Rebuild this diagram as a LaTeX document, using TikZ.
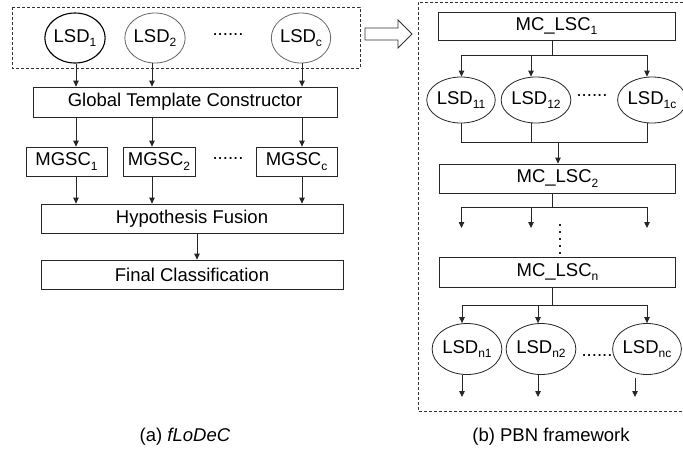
\documentclass[tikz,border=0pt]{standalone}
\usepackage{fontspec}
\setmainfont{Liberation Sans}
\usetikzlibrary{arrows.meta,shapes.geometric}
\newcommand\lowidx[1]{\raisebox{-4.5pt}{\fontsize{12}{12}\selectfont #1}}

\begin{document}
\begin{tikzpicture}[x=1pt,y=-1pt,
  every node/.style={font=\fontsize{18.5}{22}\selectfont, inner sep=0pt},
  ln/.style={draw=black!85, line width=0.8pt},
  box/.style={rectangle, draw=black!85, line width=0.8pt},
  oval/.style={ellipse, draw=black!85, line width=0.8pt},
  arr/.style={ln, -{Triangle[length=6pt,width=5.5pt]}},
  frame/.style={draw=black!80, line width=0.8pt, dash pattern=on 3pt off 2pt}]
\fill[white] (0,0) rectangle (683,456);
\useasboundingbox (0,0) rectangle (683,456);

% ---------- left: fLoDeC ----------
\draw[frame] (12,7) rectangle (360,68);
\node[oval, draw=black, line width=1.1pt, minimum width=56pt, minimum height=50pt] (lsd1) at (75,38) {LSD\lowidx{1}};
\node[oval, draw=black!60, minimum width=54pt, minimum height=50pt] (lsd2) at (155,38) {LSD\lowidx{2}};
\node[oval, draw=black!60, minimum width=52pt, minimum height=50pt] (lsdc) at (301,38) {LSD\lowidx{c}};
\node (dotsA) at (228,35) {......};

\node[box, minimum width=304pt, minimum height=30pt] (gtc) at (185,102) {Global Template Constructor};

\node[box, minimum width=81pt, minimum height=29pt] (m1) at (66.5,161.5) {MGSC\lowidx{1}};
\node[box, minimum width=72pt, minimum height=29pt] (m2) at (159,161.5) {MGSC\lowidx{2}};
\node[box, minimum width=81pt, minimum height=29pt] (mc) at (296.5,161.5) {MGSC\lowidx{c}};
\node (dotsB) at (228,159) {......};

\node[box, minimum width=302pt, minimum height=29pt] (hf) at (192,218.5) {Hypothesis Fusion};
\node[box, minimum width=302pt, minimum height=29pt] (fc) at (192,274.5) {Final Classification};

% column positions of the left-hand arrows
\coordinate (cA) at (76,0);
\coordinate (cB) at (152,0);
\coordinate (cC) at (302,0);

\draw[arr] (lsd1.south -| cA) -- (gtc.north -| cA);
\draw[arr] (lsd2.south -| cB) -- (gtc.north -| cB);
\draw[arr] (lsdc.south -| cC) -- (gtc.north -| cC);
\draw[arr] (gtc.south -| cA) -- (m1.north -| cA);
\draw[arr] (gtc.south -| cB) -- (m2.north -| cB);
\draw[arr] (gtc.south -| cC) -- (mc.north -| cC);
\draw[arr] (m1.south -| cA) -- (hf.north -| cA);
\draw[arr] (m2.south -| cB) -- (hf.north -| cB);
\draw[arr] (mc.south -| cC) -- (hf.north -| cC);
\draw[arr] ([xshift=5pt]hf.south) -- ([xshift=5pt]fc.north);

% hollow arrow between the panels
\draw[draw=black!80, line width=0.8pt] (365,28) -- (398,28) -- (398,20) -- (412,34)
  -- (398,48) -- (398,40) -- (365,40) -- cycle;

% ---------- right: PBN framework ----------
\draw[frame] (683,2) -- (418,2) -- (418,411) -- (683,411);

\coordinate (rA) at (461.5,0);
\coordinate (rB) at (531,0);
\coordinate (rC) at (647,0);
\coordinate (rM) at (552,0);

\node[box, minimum width=237pt, minimum height=28pt] (mc1) at (556.5,26) {MC\_LSC\lowidx{1}};
\node[oval, minimum width=57pt, minimum height=46pt] (l11) at (461,100) {LSD\lowidx{11}};
\node[oval, minimum width=58pt, minimum height=46pt] (l12) at (536,100) {LSD\lowidx{12}};
\node[oval, minimum width=55pt, minimum height=46pt] (l1c) at (652,100) {LSD\lowidx{1c}};
\node (dotsC) at (592,96) {......};

\coordinate (s1) at (552,55);
\draw[ln] (mc1.south -| rM) -- (s1);
\draw[ln] (s1 -| rA) -- (s1 -| rC);
\draw[arr] (s1 -| rA) -- (l11.north -| rA);
\draw[arr] (s1 -| rB) -- (l12.north -| rB);
\draw[arr] (s1 -| rC) -- (l1c.north -| rC);

\node[box, minimum width=236pt, minimum height=29pt] (mc2) at (557.5,178.5) {MC\_LSC\lowidx{2}};

\coordinate (j1) at (558,142);
\draw[ln] (l11.south -| rA) -- (j1 -| rA) -- (j1 -| rC) -- (l1c.south -| rC);
\draw[ln] (l12.south -| rB) -- (j1 -| rB);
\draw[arr] (j1) -- (mc2.north -| j1);

\coordinate (s2) at (552,207);
\coordinate (e2) at (0,228);
\draw[ln] (mc2.south -| rM) -- (s2);
\draw[ln] (s2 -| rA) -- (s2 -| rC);
\draw[arr] (s2 -| rA) -- (e2 -| rA);
\draw[arr] (s2 -| rB) -- (e2 -| rB);
\draw[arr] (s2 -| rC) -- (e2 -| rC);

% vertical ellipsis
\draw[draw=black!85, line width=1.6pt, dash pattern=on 1.6pt off 5.4pt] (560,224) -- (560,256);

\node[box, minimum width=236pt, minimum height=30pt] (mcn) at (557.5,272) {MC\_LSC\lowidx{n}};

\node[oval, minimum width=56pt, minimum height=51pt] (ln1) at (467,349) {LSD\lowidx{n1}};
\node[oval, minimum width=57pt, minimum height=51pt] (ln2) at (541,349) {LSD\lowidx{n2}};
\node[oval, minimum width=53pt, minimum height=51pt] (lnc) at (647,349) {LSD\lowidx{nc}};
\node (dotsD) at (597,356) {......};

\coordinate (nA) at (462,0);
\coordinate (nB) at (538,0);
\coordinate (nC) at (647,0);
\coordinate (oC) at (635,0);
\coordinate (s3) at (552,305);
\coordinate (e3) at (0,397);
\draw[ln] (mcn.south -| rM) -- (s3);
\draw[ln] (s3 -| nA) -- (s3 -| nC);
\draw[arr] (s3 -| nA) -- (ln1.north -| nA);
\draw[arr] (s3 -| nB) -- (ln2.north -| nB);
\draw[arr] (s3 -| nC) -- (lnc.north -| nC);
\draw[arr] (ln1.south -| nA) -- (e3 -| nA);
\draw[arr] (ln2.south -| nB) -- (e3 -| nB);
\draw[arr] ([yshift=-3pt]lnc.south -| oC) -- (e3 -| oC);

% ---------- captions ----------
\node (capA) at (185,437) {(a) \textit{fLoDeC}};
\node (capB) at (551,437) {(b) PBN framework};
\end{tikzpicture}
\end{document}
